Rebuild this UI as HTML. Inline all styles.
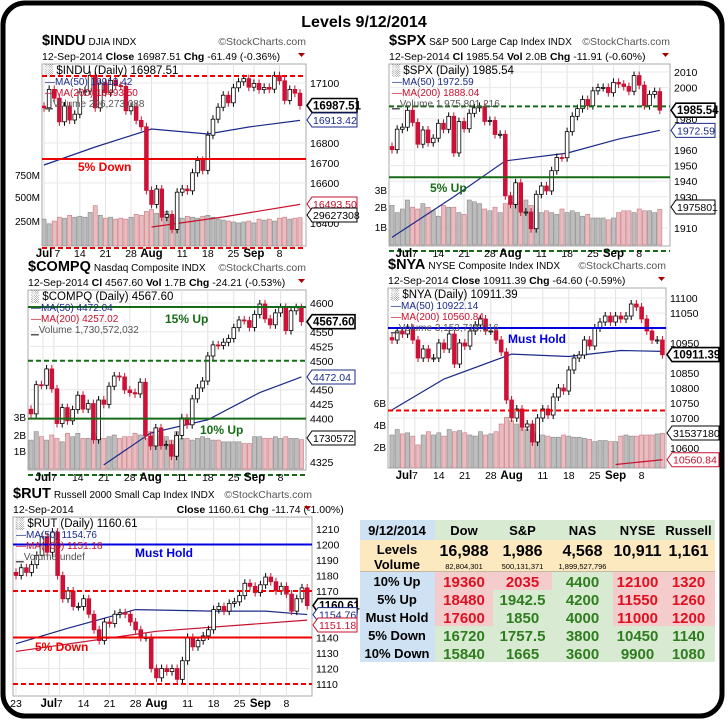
<!DOCTYPE html>
<html><head><meta charset="utf-8"><style>
html,body{margin:0;padding:0;background:#fff}
svg{display:block;font-family:"Liberation Sans",sans-serif}
</style></head><body>
<svg id="s" width="728" height="723" viewBox="0 0 728 723">
<rect x="3" y="3" width="719" height="713" rx="22" fill="#fff" stroke="#000" stroke-width="5"/>
<text x="364" y="27" text-anchor="middle" font-size="16" font-weight="bold">Levels 9/12/2014</text>
<g id="charts"></g>
<g id="tbl"></g>
</svg>
<script>
// ===== INDU data =====
const induClose=[16976,17068,17024,16906,16985,16915,16944,17055,17060,17138,16976,17100,17052,17113,17087,17083,16961,16983,16913,16881,16563,16493,16570,16429,16443,16368,16554,16570,16561,16651,16713,16663,16839,16919,16979,17039,17001,17076,17106,17122,17079,17098,17067,17078,17069,17137,17111,17013,17068,17049,16987];
const induVol=[280,230,260,300,290,320,300,310,300,350,420,320,290,300,280,290,280,300,330,320,360,380,340,330,360,320,300,290,310,300,290,310,320,300,280,270,260,250,240,250,260,240,280,270,280,260,290,300,280,290,296];
const induMAIdx=[0,10,21,32,40,50];const induMA50=[16690,16780,16870,16845,16880,16913];
const induMA200Idx=[21,35,50];const induMA200Vals=[16380,16430,16493];
const induTicks=[17100,16800,16700,16600,16400];
// ===== SPX data =====
const spxClose=[1960.23,1973.32,1974.62,1985.44,1977.65,1963.71,1972.83,1964.68,1967.57,1977.10,1973.28,1981.57,1958.12,1978.22,1973.63,1983.53,1987.01,1987.98,1978.34,1978.91,1969.95,1970.07,1930.67,1925.15,1938.99,1920.21,1920.24,1909.57,1931.59,1936.92,1933.75,1946.72,1955.18,1955.06,1971.74,1981.60,1986.51,1992.37,1988.40,1997.92,2000.02,2000.12,1996.74,2003.37,2002.28,2000.72,1997.65,2007.71,2001.54,1988.44,1995.69,1997.45,1985.54];
const spxVol=[2.2,1.8,2.0,2.5,2.1,2.0,2.3,2.1,1.9,1.6,2.2,2.1,2.1,1.8,1.7,2.5,2.4,2.3,2.0,1.9,2.1,1.8,2.3,2.4,2.3,2.4,2.5,2.2,2.0,1.8,1.9,1.8,1.7,2.0,1.8,1.9,1.8,1.6,1.7,1.5,1.5,1.5,1.4,1.5,1.8,1.9,1.9,1.8,2.0,1.9,1.9,1.8,1.98];
const spxMAIdx=[0,12,22,34,44,52];const spxMA50=[1904,1930,1953,1958,1967,1972.6];
const spxTicks=[2010,2000,1980,1960,1950,1940,1930,1910];
// ===== COMPQ data =====
const nasClose=[4408.18,4458.65,4457.73,4485.93,4451.53,4391.46,4419.03,4396.20,4415.49,4440.42,4416.39,4425.97,4363.45,4432.15,4424.70,4456.02,4473.70,4472.11,4449.56,4444.91,4442.70,4462.90,4369.77,4352.64,4383.89,4353.14,4355.05,4334.97,4370.90,4401.33,4389.25,4434.13,4453.00,4464.93,4508.31,4527.51,4526.48,4532.10,4538.55,4557.35,4570.64,4569.62,4557.70,4580.27,4598.19,4572.56,4562.29,4582.90,4592.29,4552.29,4586.52,4591.81,4567.60];
const nasVol=[1.7,2.2,1.9,1.7,2.0,1.8,1.6,2.1,1.9,2.1,1.8,1.8,2.1,1.9,1.8,1.9,2.0,1.8,1.9,1.9,2.1,2.0,1.8,2.2,2.0,2.1,1.9,1.7,2.2,1.8,1.8,1.7,1.8,1.9,1.8,1.7,1.7,1.6,1.6,1.6,1.6,1.5,1.5,1.9,1.9,1.8,1.8,1.9,1.8,1.9,1.8,1.8,1.73];
const nasMAIdx=[14,23,34,44,52];const nasMA50=[4320,4375,4398,4445,4472];
const nasTicks=[4600,4550,4525,4500,4450,4425,4400,4325];
// ===== NYA data =====
const nyaClose=[10960,10990,10980,11000,10960,10900,10930,10900,10900,10950,10930,10980,10880,10950,10940,10990,11010,11030,10990,10990,10960,10920,10760,10700,10730,10670,10680,10620,10700,10730,10710,10770,10800,10790,10860,10900,10910,10960,10940,11000,11020,11040,11020,11040,11030,11040,11080,11070,11030,10990,10960,10960,10911];
const nyaVol=[3.0,3.5,3.1,3.2,2.9,2.1,3.0,3.3,3.0,3.2,2.9,3.5,3.3,3.4,3.2,3.0,2.9,3.3,3.0,3.1,3.3,4.0,4.6,4.3,4.0,3.7,3.5,3.3,3.1,3.0,2.9,2.8,2.8,3.0,2.9,2.8,2.8,2.7,2.6,2.4,2.5,2.5,2.4,2.4,2.9,3.0,2.9,2.9,3.0,3.0,3.0,3.1,3.15];
const nyaMAIdx=[0,10,23,34,44,52];const nyaMA50=[10727,10830,10913,10905,10925,10922];
const nyaMA200Idx=[43,52];const nyaMA200Vals=[10545,10560.84];
const nyaTicks=[11100,11050,10950,10850,10800,10750,10700,10600];
// ===== RUT data =====
const rutClose=[1180,1185,1182,1187,1193,1205,1195,1208,1180,1165,1170,1160,1160,1165,1155,1145,1138,1150,1149,1155,1156,1155,1150,1145,1140,1140,1120,1114,1120,1118,1120,1113,1125,1140,1134,1138,1141,1145,1158,1160,1157,1162,1163,1167,1175,1173,1169,1174,1179,1176,1170,1173,1168,1157,1165,1172,1160.61];
const rutMAIdx=[0,10,23,38,48,56];const rutMA50=[1136,1146,1158,1157,1157,1154.8];
const rutMA200Idx=[0,27,56];const rutMA200Vals=[1131,1144,1151.2];
const rutTicks=[1210,1200,1190,1180,1170,1140,1130,1120,1110];
// date labels
const induDates=["Jul","7","14","21","28","Aug","11","18","25","Sep","8"];const induDateIdx=[0,2.6,7,12,17,21,27,32,37,41,46];
const stdDates=["Jul","7","14","21","28","Aug","11","18","25","Sep","8"];const stdDateIdx=[2.3,4.4,9,14,19,23,29,34,39,43,48];
const rutDates=["23","Jul","7","14","21","28","Aug","11","18","25","Sep","8"];const rutDateIdx=[0,6.3,8.4,13,18,23,27,33,38,43,47,52];

const NS="http://www.w3.org/2000/svg";
function mk(tag,attrs,parent,txt){const e=document.createElementNS(NS,tag);for(const k in attrs)e.setAttribute(k,attrs[k]);if(txt!==undefined)e.textContent=txt;parent.appendChild(e);return e;}
const root=document.getElementById('charts');
let cid=0;
function chart(c){
  cid++;
  const g=mk('g',{},root);
  
  
  const X=i=>c.x0+i*c.dx, Y=v=>c.yRef+(c.vRef-v)*c.k;
  const t=mk('text',{x:c.L,y:c.T-19,'font-size':14.5,'font-weight':'bold'},g);
  
  mk('tspan',{},t,c.sym);mk('tspan',{'font-size':10,'font-weight':'normal',dx:3},t,c.desc);
  const sc=mk('text',{x:c.R,y:c.T-19,'font-size':10.5,'text-anchor':'end',fill:'#555'},g,'©StockCharts.com');
  
  const dl=mk('text',{x:c.L,y:c.T-4,'font-size':10.5},g);
  
  dl.innerHTML=c.quote;
  mk('path',{d:`M${c.R-8},${c.T-11}h7l-3.5,4z`,fill:'#a00'},g);
  mk('rect',{x:c.L,y:c.T,width:c.R-c.L,height:c.B-c.T,fill:'#fff',stroke:'#aaa'},g);
  const cp='cp'+cid;const cl=mk('clipPath',{id:cp},g);mk('rect',{x:c.L,y:c.T,width:c.R-c.L,height:c.B-c.T},cl);
  const pg=mk('g',{'clip-path':`url(#${cp})`},g);
  c.dIdx.forEach(i=>mk('line',{x1:X(i),x2:X(i),y1:c.T,y2:c.B,stroke:'#e2e2e2'},pg));
  c.ticks.forEach(v=>mk('line',{x1:c.L,x2:c.R,y1:Y(v),y2:Y(v),stroke:'#e8e8e8'},pg));
  if(c.vol){c.vol.forEach((v,i)=>{const up=i==0||c.close[i]>=c.close[i-1];const h=v*c.vk;
    const r=mk('rect',{x:X(i)-c.dx/2+0.5,y:c.vz-h,width:c.dx-1,height:h,fill:up?'#bdbdbd':'#e9bcc0',stroke:up?'#888':'#c87880','stroke-width':0.6},pg);
    });}
  c.levels.forEach(l=>{const yy=l.y!==undefined?l.y:Y(l.v);const ln=mk('line',{x1:c.L,x2:c.R,y1:yy,y2:yy,stroke:l.c,'stroke-width':2,'stroke-dasharray':l.d?'5,3':'none'},g);
    });
  const poly=(idx,vals,col,nm)=>{const l=mk('polyline',{points:idx.map((i,j)=>X(i)+','+Y(vals[j])).join(' '),fill:'none',stroke:col,'stroke-width':1.2},pg);
    };
  poly(c.maIdx,c.ma50,'#1a2a8a','ma50-line');
  if(c.ma2Idx)poly(c.ma2Idx,c.ma200,'#c8102e','ma200-line');
  c.close.forEach((v,i)=>{const o=i==0?v+(c.vRef>3000?8:2):c.close[i-1];const down=v<o;
    const top=Y(Math.max(o,v)),bot=Y(Math.min(o,v));const x=X(i);
    mk('line',{x1:x,x2:x,y1:top-4,y2:bot+4,stroke:down?'#c8102e':'#000'},pg);
    const b=mk('rect',{x:x-c.dx*0.36,y:top,width:c.dx*0.72,height:Math.max(1,bot-top),fill:down?'#d0103a':'#fff',stroke:down?'#c8102e':'#000','stroke-width':0.8},pg);
    });
  const lg=[['\u2591 '+c.sym+' (Daily) '+c.last,'#000'],['\u2014MA(50) '+c.m50,'#1a2a8a'],['\u2014MA(200) '+c.m200,'#c8102e'],['\u2581Volume '+c.vtxt,'#555']];
  lg.forEach((a,j)=>{const tx=mk('text',{x:c.L+3,y:c.T+10+j*11,'font-size':j==0?11.5:10,fill:a[1]},g,a[0]);});
  c.labels.forEach(l=>{const tx=mk('text',{x:l.x,y:l.y,'font-size':12,'font-weight':'bold',fill:l.c},g,l.t);});
  c.ticks.forEach(v=>{const tx=mk('text',{x:c.R+4,y:Y(v)+4,'font-size':10.5},g,v);});
  (c.vlab||[]).forEach(a=>{const tx=mk('text',{x:c.L-2,y:a[1]+4,'font-size':10,'text-anchor':'end'},g,a[0]);});
  c.tags.forEach(tg=>{const y=tg.y!==undefined?tg.y:Y(tg.v);const x=c.R+1,w=tg.w||50;
    mk('path',{d:`M${x},${y}l5,-7h${w-5}v14h${-(w-5)}z`,fill:'#fff',stroke:tg.c,'stroke-width':tg.b?1.6:1},g);
    const tx=mk('text',{x:x+6,y:y+4,'font-size':tg.b?11.5:10.5,'font-weight':tg.b?'bold':'normal',fill:tg.c},g,tg.t);
    });
  c.dates.forEach((d,j)=>{const bold=isNaN(+d);const tx=mk('text',{x:X(c.dIdx[j]),y:c.B+11,'font-size':bold?11.5:10.5,'font-weight':bold?'bold':'normal','text-anchor':'middle'},g,d);
    });
}
chart({name:'indu',sym:'$INDU',desc:'DJIA  INDX',quote:'12-Sep-2014  <tspan font-weight="bold">Close</tspan> 16987.51  <tspan font-weight="bold">Chg</tspan> -61.49 (-0.36%)',
 L:42,R:306,T:64,B:246,x0:44,dx:5.12,yRef:83,vRef:17100,k:0.2,close:induClose,vol:induVol,vk:24/250,vz:246,
 maIdx:induMAIdx,ma50:induMA50,ma2Idx:induMA200Idx,ma200:induMA200Vals,ticks:induTicks,dates:induDates,dIdx:induDateIdx,
 last:'16987.51',m50:'16913.42',m200:'16493.50',vtxt:'296,273,088',
 levels:[{y:76,c:'#e00',d:1},{v:16720,c:'#e00'},{y:248,c:'#e00',d:1}],labels:[{x:78,y:171,t:'5% Down',c:'#e00'}],
 vlab:[['750M',175],['500M',197],['250M',221]],
 tags:[{v:16987.51,t:'16987.51',c:'#000',b:1},{y:120,t:'16913.42',c:'#1a2a8a'},{y:204,t:'16493.50',c:'#c8102e'},{y:215,t:'29627308',c:'#000',w:50}]});
chart({name:'spx',sym:'$SPX',desc:'S&P 500 Large Cap Index  INDX',quote:'12-Sep-2014  <tspan font-weight="bold">Cl</tspan> 1985.54  <tspan font-weight="bold">Vol</tspan> 2.0B  <tspan font-weight="bold">Chg</tspan> -11.91 (-0.60%)',
 L:389,R:670,T:64,B:246,x0:392,dx:5.15,yRef:72,vRef:2010,k:1.56,close:spxClose,vol:spxVol,vk:18,vz:245,
 maIdx:spxMAIdx,ma50:spxMA50,ticks:spxTicks,dates:stdDates,dIdx:stdDateIdx,
 last:'1985.54',m50:'1972.59',m200:'1888.04',vtxt:'1,975,801,216',
 levels:[{v:1988,c:'#176b17',d:1},{v:1942.5,c:'#176b17'},{y:251,c:'#176b17',d:1}],labels:[{x:430,y:192,t:'5% Up',c:'#176b17'}],
 vlab:[['3B',190],['2B',207],['1B',227]],
 tags:[{v:1985.54,t:'1985.54',c:'#000',b:1,w:44},{v:1972.59,t:'1972.59',c:'#1a2a8a',w:44},{y:207,t:'1975801',c:'#000',w:44}]});
chart({name:'compq',sym:'$COMPQ',desc:'Nasdaq Composite  INDX',quote:'12-Sep-2014  <tspan font-weight="bold">Cl</tspan> 4567.60  <tspan font-weight="bold">Vol</tspan> 1.7B  <tspan font-weight="bold">Chg</tspan> -24.21 (-0.53%)',
 L:28,R:306,T:290,B:470,x0:31,dx:5.2,yRef:303,vRef:4600,k:0.578,close:nasClose,vol:nasVol,vk:17,vz:469,
 maIdx:nasMAIdx,ma50:nasMA50,ticks:nasTicks,dates:stdDates,dIdx:stdDateIdx,
 last:'4567.60',m50:'4472.04',m200:'4257.02',vtxt:'1,730,572,032',
 levels:[{y:307,c:'#176b17'},{v:4500,c:'#176b17',d:1},{v:4400,c:'#176b17'},{y:475,c:'#176b17',d:1}],labels:[{x:165,y:323,t:'15% Up',c:'#176b17'},{x:200,y:434,t:'10% Up',c:'#176b17'}],
 vlab:[['3B',417],['2B',435],['1B',451]],
 tags:[{v:4567.60,t:'4567.60',c:'#000',b:1,w:48},{v:4472.04,t:'4472.04',c:'#1a2a8a',w:48},{y:438,t:'1730572',c:'#000',w:48}]});
chart({name:'nya',sym:'$NYA',desc:'NYSE Composite Index  INDX',quote:'12-Sep-2014  <tspan font-weight="bold">Close</tspan> 10911.39  <tspan font-weight="bold">Chg</tspan> -64.60 (-0.59%)',
 L:388,R:666,T:288,B:468,x0:392,dx:5.2,yRef:298,vRef:11100,k:0.3,close:nyaClose,vol:nyaVol,vk:11,vz:468,
 maIdx:nyaMAIdx,ma50:nyaMA50,ma2Idx:nyaMA200Idx,ma200:nyaMA200Vals,ticks:nyaTicks,dates:stdDates,dIdx:stdDateIdx,
 last:'10911.39',m50:'10922.14',m200:'10560.84',vtxt:'3,153,718,016',
 levels:[{v:11000,c:'#0000e0'},{v:10725,c:'#e00',d:1}],labels:[{x:508,y:343,t:'Must Hold',c:'#0000e0'}],
 vlab:[['6B',403],['4B',425],['2B',447]],
 tags:[{v:10911.39,t:'10911.39',c:'#000',b:1,w:52},{y:433,t:'31537180',c:'#000',w:52},{v:10560.84,t:'10560.84',c:'#c8102e',w:52}]});
chart({name:'rut',sym:'$RUT',desc:'Russell 2000 Small Cap Index  INDX',quote:'12-Sep-2014 <tspan dx="100" font-weight="bold">Close</tspan> 1160.61  <tspan font-weight="bold">Chg</tspan> -11.74 (-1.00%)',
 L:13,R:312,T:517,B:696,x0:16,dx:5.2,yRef:529,vRef:1210,k:1.55,close:rutClose,
 maIdx:rutMAIdx,ma50:rutMA50,ma2Idx:rutMA200Idx,ma200:rutMA200Vals,ticks:rutTicks,dates:rutDates,dIdx:rutDateIdx,
 last:'1160.61',m50:'1154.76',m200:'1151.18',vtxt:'undef',
 levels:[{v:1200,c:'#0000e0'},{v:1170,c:'#e00',d:1},{v:1140,c:'#e00'},{v:1110,c:'#e00',d:1}],labels:[{x:135,y:557,t:'Must Hold',c:'#0000e0'},{x:35,y:651,t:'5% Down',c:'#e00'}],
 tags:[{v:1160.61,t:'1160.61',c:'#000',b:1,w:44},{v:1154.76,t:'1154.76',c:'#1a2a8a',w:44},{y:625,t:'1151.18',c:'#c8102e',w:44}]});

// ===== table =====
const colNames=["Dow","S&P","NAS","NYSE","Russell"];
const levelVals=["16,988","1,986","4,568","10,911","1,161"];
const volVals=["82,804,301","500,131,371","1,899,527,796","",""];
const rowNames=["10% Up","5% Up","Must Hold","5% Down","10% Down"];
const rowVals=[["19360","2035","4400","12100","1320"],["18480","1942.5","4200","11550","1260"],["17600","1850","4000","11000","1200"],["16720","1757.5","3800","10450","1140"],["15840","1665","3600","9900","1080"]];
const pinkCells=[[1,1,0,1,1],[1,0,0,1,1],[1,0,0,1,1],[0,0,0,0,0],[0,0,0,0,0]];
const tb=document.getElementById('tbl');
const cx=[360,435,493,552,613,662,715];
const ry=[520,540,572,590,608,626,644,662];
mk('rect',{x:360,y:520,width:75,height:20,fill:'#cfe2f3'},tb);
mk('rect',{x:435,y:520,width:280,height:20,fill:'#d9ead3'},tb);
mk('rect',{x:360,y:540,width:355,height:32,fill:'#fde9c0'},tb);
mk('line',{x1:360,x2:715,y1:572,y2:572,stroke:'#888'},tb);
mk('text',{x:397,y:535,'font-size':13,'font-weight':'bold','text-anchor':'middle'},tb,'9/12/2014');
mk('text',{x:397,y:554,'font-size':13,'font-weight':'bold','text-anchor':'middle'},tb,'Levels');
mk('text',{x:397,y:569,'font-size':13,'font-weight':'bold','text-anchor':'middle'},tb,'Volume');
colNames.forEach((n,j)=>{const m=(cx[j+1]+cx[j+2])/2;
  const h=mk('text',{x:m,y:535,'font-size':13,'font-weight':'bold','text-anchor':'middle'},tb,n);
  mk('text',{x:m,y:556,'font-size':16,'font-weight':'bold','text-anchor':'middle'},tb,levelVals[j]);
  mk('text',{x:m,y:569,'font-size':7.5,'text-anchor':'middle'},tb,volVals[j]);});
rowNames.forEach((r,i)=>{
  mk('rect',{x:360,y:ry[i+2],width:75,height:18,fill:'#cfe2f3'},tb);
  const rl=mk('text',{x:397,y:ry[i+2]+14,'font-size':13,'font-weight':'bold','text-anchor':'middle'},tb,r);
  rowVals[i].forEach((v,j)=>{const p=pinkCells[i][j];
    mk('rect',{x:cx[j+1],y:ry[i+2],width:cx[j+2]-cx[j+1],height:18,fill:p?'#f4cccc':'#d9ead3'},tb);
    const tx=mk('text',{x:(cx[j+1]+cx[j+2])/2,y:ry[i+2]+15,'font-size':15,'font-weight':'bold','text-anchor':'middle',fill:p?'#e01020':'#2e7d1e'},tb,v);
    });
});
</script>
</body></html>
